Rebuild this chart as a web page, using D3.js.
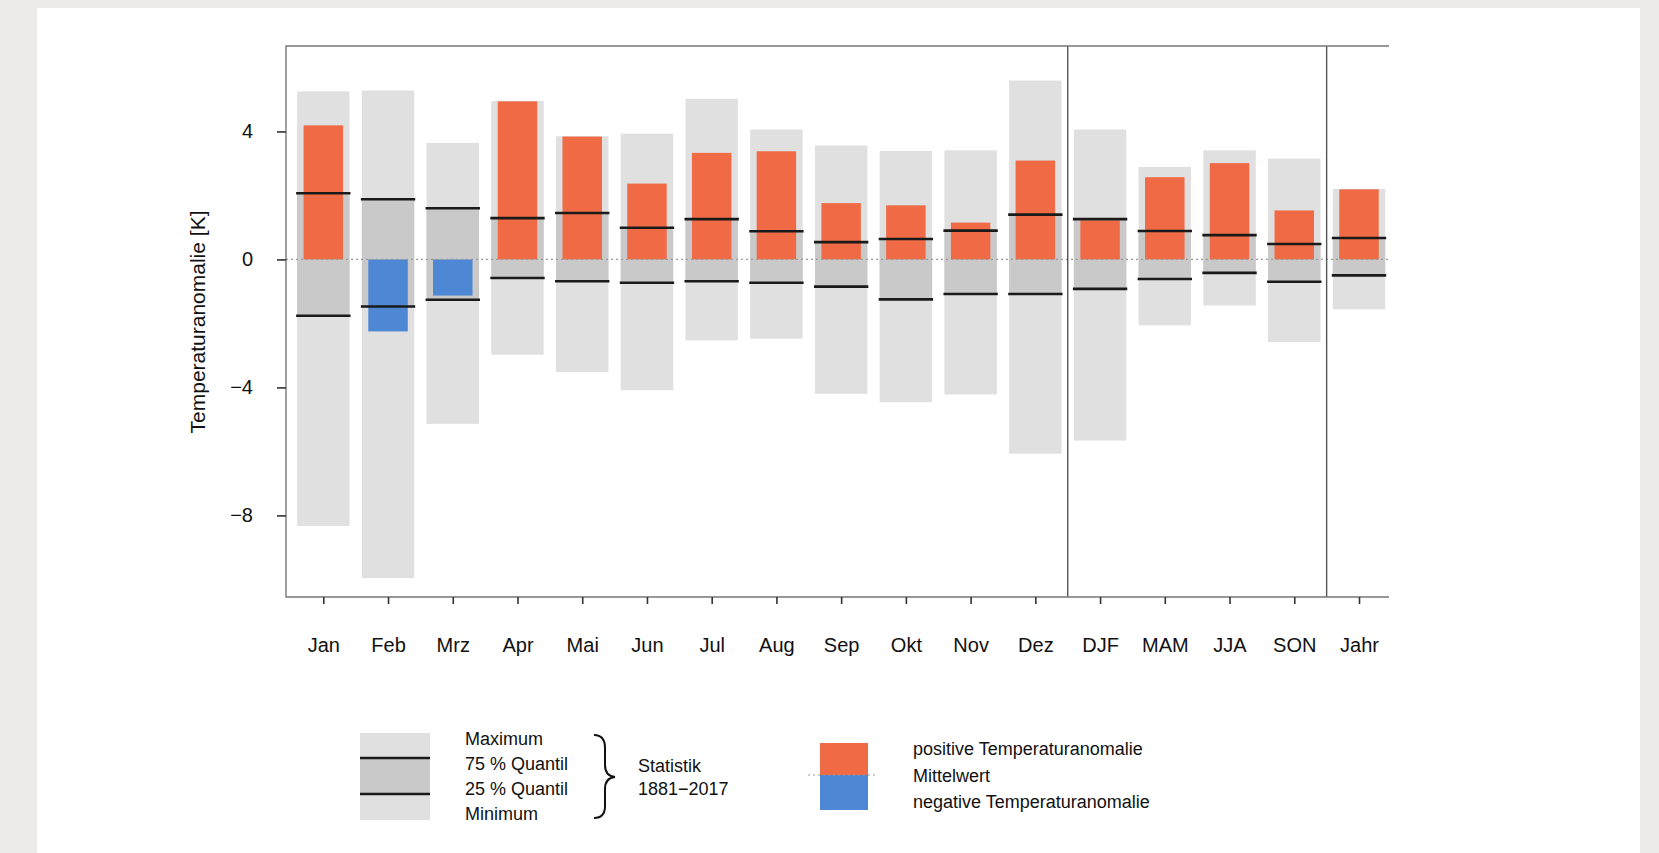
<!DOCTYPE html>
<html lang="de">

<head>
    <meta charset="UTF-8" />
    <meta name="viewport" content="width=device-width, initial-scale=1.0" />
    <script type="text/javascript" src="https://cdn.jsdelivr.net/npm/d3@7/dist/d3.min.js"></script>
    <title>Temperaturanomalie</title>
    <style>
        body { margin: 0; background: #eeeae9; }
        #chart { display: block; }
        text { font-family: "Liberation Sans", Arial, sans-serif; fill: #111; }
    </style>
</head>

<body>
    <div id="chart"></div>

    <script type="text/javascript">
        // categories (months, seasons, year)
        var categories = ["Jan", "Feb", "Mrz", "Apr", "Mai", "Jun", "Jul", "Aug", "Sep", "Okt", "Nov", "Dez",
            "DJF", "MAM", "JJA", "SON", "Jahr"];

        // Statistik 1881-2017
        var maxValues = [5.25, 5.28, 3.64, 4.95, 3.85, 3.93, 5.02, 4.06, 3.56, 3.39, 3.41, 5.59, 4.06, 2.89, 3.41, 3.15, 2.20];
        var q75Values = [2.07, 1.88, 1.60, 1.29, 1.45, 0.99, 1.26, 0.88, 0.54, 0.64, 0.90, 1.40, 1.26, 0.89, 0.76, 0.48, 0.67];
        var q25Values = [-1.76, -1.47, -1.26, -0.58, -0.68, -0.73, -0.68, -0.73, -0.85, -1.25, -1.08, -1.08, -0.92, -0.61, -0.42, -0.70, -0.50];
        var minValues = [-8.33, -9.96, -5.14, -2.98, -3.52, -4.09, -2.53, -2.48, -4.20, -4.46, -4.22, -6.07, -5.66, -2.06, -1.44, -2.58, -1.56];

        // current anomaly
        var anomalies = [4.19, -2.25, -1.13, 4.94, 3.84, 2.37, 3.33, 3.38, 1.76, 1.69, 1.15, 3.09, 1.22, 2.57, 3.01, 1.53, 2.19];

        var yTicks = [4, 0, -4, -8];
        var separators = [["Dez", "DJF"], ["SON", "Jahr"]];

        var W = 1659, H = 853;
        var plot = { left: 286, right: 1389, top: 46, bottom: 597 };

        var data = categories.map(function (c, i) {
            return { cat: c, max: maxValues[i], q75: q75Values[i], q25: q25Values[i], min: minValues[i], anom: anomalies[i] };
        });

        var svg = d3.select("#chart").append("svg")
            .attr("width", W)
            .attr("height", H);

        // white panel
        svg.append("rect")
            .attr("x", 37).attr("y", 8)
            .attr("width", 1640 - 37).attr("height", H - 8)
            .attr("fill", "#ffffff");

        var x = d3.scalePoint()
            .domain(categories)
            .range([323.3, 1359]);
        var step = x.step();

        var y = d3.scaleLinear()
            .domain([-10.55, 6.67])
            .range([plot.bottom, plot.top]);

        var greyW = step * 0.81, lineW = step * 0.84, barW = step * 0.61;

        var g = svg.append("g");

        // Min-Max
        g.selectAll("rect.range")
            .data(data)
            .enter().append("rect")
            .attr("class", "range")
            .attr("x", function (d) { return x(d.cat) - greyW / 2; })
            .attr("width", greyW)
            .attr("y", function (d) { return y(d.max); })
            .attr("height", function (d) { return y(d.min) - y(d.max); })
            .attr("fill", "#e0e0e0");

        // 25-75 %
        g.selectAll("rect.iqr")
            .data(data)
            .enter().append("rect")
            .attr("class", "iqr")
            .attr("x", function (d) { return x(d.cat) - greyW / 2; })
            .attr("width", greyW)
            .attr("y", function (d) { return y(d.q75); })
            .attr("height", function (d) { return y(d.q25) - y(d.q75); })
            .attr("fill", "#c9c9c9");

        // anomaly bars
        g.selectAll("rect.anom")
            .data(data)
            .enter().append("rect")
            .attr("class", "anom")
            .attr("x", function (d) { return x(d.cat) - barW / 2; })
            .attr("width", barW)
            .attr("y", function (d) { return y(Math.max(0, d.anom)); })
            .attr("height", function (d) { return Math.abs(y(d.anom) - y(0)); })
            .attr("fill", function (d) { return d.anom >= 0 ? "#ef6a45" : "#4e87d4"; });

        // quantile lines
        ["q75", "q25"].forEach(function (k) {
            g.selectAll("line." + k)
                .data(data)
                .enter().append("line")
                .attr("class", k)
                .attr("x1", function (d) { return x(d.cat) - lineW / 2; })
                .attr("x2", function (d) { return x(d.cat) + lineW / 2; })
                .attr("y1", function (d) { return y(d[k]); })
                .attr("y2", function (d) { return y(d[k]); })
                .attr("stroke", "#1a1a1a")
                .attr("stroke-width", 2.6);
        });

        // Mittelwert line
        svg.append("line")
            .attr("x1", plot.left).attr("x2", plot.right)
            .attr("y1", y(0)).attr("y2", y(0))
            .attr("stroke", "#9a9a9a")
            .attr("stroke-width", 1.2)
            .attr("stroke-dasharray", "2,3");

        // separators between months / seasons / year
        separators.forEach(function (s) {
            var sx = (x(s[0]) + x(s[1])) / 2;
            svg.append("line")
                .attr("x1", sx).attr("x2", sx)
                .attr("y1", plot.top).attr("y2", plot.bottom)
                .attr("stroke", "#555")
                .attr("stroke-width", 1.4);
        });

        // frame (right side is cut off)
        svg.append("path")
            .attr("d", "M" + plot.right + "," + plot.top + "H" + plot.left + "V" + plot.bottom + "H" + plot.right)
            .attr("fill", "none")
            .attr("stroke", "#777")
            .attr("stroke-width", 1.4);

        // axes
        var yAxis = svg.append("g")
            .attr("transform", "translate(" + plot.left + ",0)")
            .call(d3.axisLeft(y).tickValues(yTicks).tickSize(9).tickPadding(24).tickFormat(d3.format("d")));
        yAxis.select(".domain").remove();
        yAxis.selectAll("line").attr("stroke", "#333").attr("stroke-width", 1.6);
        yAxis.selectAll("text").style("font-size", "20px").attr("fill", "#111");

        var xAxis = svg.append("g")
            .attr("transform", "translate(0," + plot.bottom + ")")
            .call(d3.axisBottom(x).tickSize(7).tickPadding(34));
        xAxis.select(".domain").remove();
        xAxis.selectAll("line").attr("stroke", "#333").attr("stroke-width", 1.6);
        xAxis.selectAll("text").style("font-size", "20px").attr("fill", "#111");

        svg.append("text")
            .attr("transform", "translate(205,322) rotate(-90)")
            .attr("text-anchor", "middle")
            .style("font-size", "21px")
            .text("Temperaturanomalie [K]");

        // Legend: Statistik
        var leg1 = svg.append("g");
        leg1.append("rect").attr("x", 360).attr("y", 733).attr("width", 70).attr("height", 87).attr("fill", "#e0e0e0");
        leg1.append("rect").attr("x", 360).attr("y", 758).attr("width", 70).attr("height", 36).attr("fill", "#c9c9c9");
        [758, 794].forEach(function (ly) {
            leg1.append("line").attr("x1", 360).attr("x2", 430).attr("y1", ly).attr("y2", ly)
                .attr("stroke", "#1a1a1a").attr("stroke-width", 2.6);
        });
        var statLabels = ["Maximum", "75 % Quantil", "25 % Quantil", "Minimum"];
        leg1.selectAll("text.stat")
            .data(statLabels)
            .enter().append("text")
            .attr("class", "stat")
            .attr("x", 465)
            .attr("y", function (d, i) { return 745 + i * 25; })
            .style("font-size", "18px")
            .text(function (d) { return d; });

        leg1.append("path")
            .attr("d", "M594,735 Q605,735 605,748 L605,765 Q605,776 615,777 Q605,778 605,789 L605,806 Q605,818 594,818")
            .attr("fill", "none")
            .attr("stroke", "#111")
            .attr("stroke-width", 2);
        leg1.append("text").attr("x", 638).attr("y", 772).style("font-size", "18px").text("Statistik");
        leg1.append("text").attr("x", 638).attr("y", 795).style("font-size", "18px").text("1881\u22122017");

        // Legend: anomalies
        var leg2 = svg.append("g");
        leg2.append("rect").attr("x", 820).attr("y", 743).attr("width", 48).attr("height", 32).attr("fill", "#ef6a45");
        leg2.append("rect").attr("x", 820).attr("y", 775).attr("width", 48).attr("height", 35).attr("fill", "#4e87d4");
        leg2.append("line").attr("x1", 808).attr("x2", 876).attr("y1", 775).attr("y2", 775)
            .attr("stroke", "#9a9a9a").attr("stroke-width", 1.2).attr("stroke-dasharray", "2,3");
        var anomLabels = ["positive Temperaturanomalie", "Mittelwert", "negative Temperaturanomalie"];
        leg2.selectAll("text.an")
            .data(anomLabels)
            .enter().append("text")
            .attr("class", "an")
            .attr("x", 913)
            .attr("y", function (d, i) { return 755 + i * 26.5; })
            .style("font-size", "18px")
            .text(function (d) { return d; });
    </script>
</body>

</html>
